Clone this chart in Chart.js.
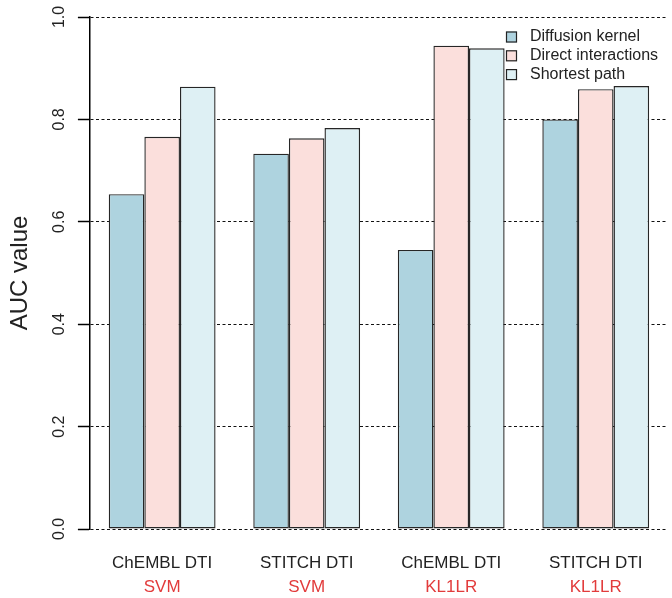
<!DOCTYPE html>
<html>
<head>
<meta charset="utf-8">
<script src="https://cdn.jsdelivr.net/npm/chart.js@4/dist/chart.umd.min.js"></script>
<style>
    body { margin: 0; background: #fff; }
    #wrap { width: 672px; height: 598px; }
</style>
</head>
<body>
<div id="wrap"><canvas id="auc-chart" width="672" height="598"></canvas></div>
<script>
const datasetNames = ['ChEMBL DTI', 'STITCH DTI', 'ChEMBL DTI', 'STITCH DTI'];
const methodNames = ['SVM', 'SVM', 'KL1LR', 'KL1LR'];
const diffusionKernel = [0.654, 0.733, 0.545, 0.800];
const directInteractions = [0.766, 0.763, 0.944, 0.859];
const shortestPath = [0.864, 0.783, 0.939, 0.865];
const yTicks = [0.0, 0.2, 0.4, 0.6, 0.8, 1.0];

const FONT = "'Liberation Sans', Arial, sans-serif";

// legend box drawn top right, inside the plot like R's legend()
const boxLegend = {
    id: 'boxLegend',
    afterDraw(chart) {
        const ctx = chart.ctx;
        ctx.save();
        ctx.font = '16px ' + FONT;
        ctx.textBaseline = 'middle';
        chart.data.datasets.forEach((ds, i) => {
            const y = 37 + i * 18.8;
            ctx.fillStyle = ds.backgroundColor;
            ctx.fillRect(506, y - 5.5, 11, 11);
            ctx.strokeStyle = '#222';
            ctx.lineWidth = 1.2;
            ctx.strokeRect(506.5, y - 5, 10, 10);
            ctx.fillStyle = '#222';
            ctx.fillText(ds.label, 530, y);
        });
        ctx.restore();
    }
};

function makeDataset(label, values, color) {
    return {
        label: label,
        data: values,
        backgroundColor: color,
        borderColor: '#262626',
        borderWidth: 1.4,
        borderSkipped: false,
        categoryPercentage: 0.739,
        barPercentage: 1.0
    };
}

const ctx = document.getElementById('auc-chart').getContext('2d');
new Chart(ctx, {
    type: 'bar',
    data: {
        labels: datasetNames,
        datasets: [
            makeDataset('Diffusion kernel', diffusionKernel, '#aed3df'),
            makeDataset('Direct interactions', directInteractions, '#fbdfdc'),
            makeDataset('Shortest path', shortestPath, '#def0f4')
        ]
    },
    options: {
        responsive: false,
        animation: false,
        layout: { padding: { left: 3, right: 4, top: 16, bottom: 1.8 } },
        plugins: {
            legend: { display: false },
            tooltip: { enabled: false }
        },
        scales: {
            x: {
                position: 'bottom',
                // hidden tick marks only push the labels down
                grid: { display: false, drawTicks: true, tickLength: 19.2 },
                border: { display: false },
                ticks: {
                    color: '#222',
                    font: { family: FONT, size: 17 },
                    padding: 4.6,
                    autoSkip: false,
                    maxRotation: 0
                }
            },
            x2: {
                type: 'category',
                position: 'bottom',
                labels: methodNames,
                offset: true,
                grid: { display: false, drawTicks: false },
                border: { display: false },
                ticks: {
                    color: '#e23b3b',
                    font: { family: FONT, size: 17 },
                    padding: -1,
                    autoSkip: false,
                    maxRotation: 0
                }
            },
            y: {
                min: 0,
                max: 1,
                afterBuildTicks: scale => {
                    scale.ticks = yTicks.map(v => ({ value: v }));
                },
                title: {
                    display: true,
                    text: 'AUC value',
                    color: '#222',
                    font: { family: FONT, size: 24 },
                    padding: { top: 2.6, bottom: 9.5 }
                },
                border: { display: true, color: '#000', width: 1.5, dash: [3, 2.5] },
                grid: {
                    color: '#111',
                    lineWidth: 1,
                    tickLength: 12,
                    tickWidth: 1.5,
                    tickColor: '#000',
                    tickBorderDash: []
                },
                ticks: {
                    color: '#222',
                    font: { family: FONT, size: 16 },
                    minRotation: 90,
                    maxRotation: 90,
                    crossAlign: 'center',
                    padding: 7.4,
                    callback: v => v.toFixed(1)
                }
            }
        }
    },
    plugins: [boxLegend]
});
</script>
</body>
</html>
